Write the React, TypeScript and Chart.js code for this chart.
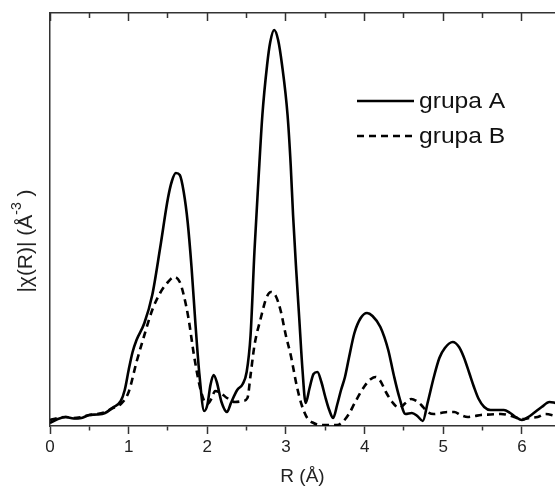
import React, { useEffect, useRef } from 'react';
import { Chart, registerables } from 'chart.js';

Chart.register(...registerables);

// ---- data (R in Å, |χ(R)| in arbitrary units) ----
const rA = [0.00, 0.10, 0.20, 0.30, 0.40, 0.50, 0.60, 0.70, 0.80, 0.90, 0.95, 1.00, 1.05, 1.10, 1.20, 1.30, 1.40, 1.50, 1.55, 1.60, 1.65, 1.70, 1.75, 1.80, 1.85, 1.90, 1.96, 2.00, 2.04, 2.08, 2.12, 2.18, 2.25, 2.30, 2.38, 2.45, 2.50, 2.55, 2.60, 2.65, 2.70, 2.76, 2.80, 2.85, 2.90, 2.95, 3.02, 3.06, 3.09, 3.13, 3.17, 3.21, 3.25, 3.30, 3.35, 3.40, 3.45, 3.50, 3.55, 3.60, 3.65, 3.70, 3.75, 3.80, 3.87, 3.95, 4.03, 4.10, 4.20, 4.30, 4.37, 4.44, 4.52, 4.60, 4.67, 4.74, 4.80, 4.88, 4.95, 5.02, 5.12, 5.20, 5.26, 5.33, 5.39, 5.45, 5.52, 5.60, 5.70, 5.77, 5.85, 5.92, 6.00, 6.08, 6.15, 6.25, 6.35, 6.43];
const vA = [3, 7, 9, 7.5, 8, 11, 11.5, 13, 18.5, 25, 36, 56, 74, 86, 103, 131, 178, 228, 245, 253, 251, 234, 204, 158, 101, 51, 15, 21, 41, 51, 44, 24, 14, 23, 36, 42, 54, 91, 176, 246, 311, 361, 384, 396, 386, 361, 311, 261, 211, 156, 106, 56, 23, 38, 52, 54, 44, 29, 16, 8, 21, 36, 49, 68, 93, 108, 113, 110, 99, 76, 51, 29, 12, 13, 10, 5, 23, 49, 68, 78, 84, 79, 69, 53, 39, 27, 19, 16, 16, 16, 13, 9, 6, 9, 13, 19, 24, 23];

const rB = [0.00, 0.10, 0.20, 0.30, 0.40, 0.50, 0.60, 0.70, 0.80, 0.90, 1.00, 1.10, 1.20, 1.30, 1.40, 1.50, 1.58, 1.65, 1.70, 1.76, 1.83, 1.90, 1.96, 2.00, 2.05, 2.10, 2.17, 2.25, 2.35, 2.45, 2.51, 2.55, 2.60, 2.68, 2.75, 2.81, 2.87, 2.93, 3.00, 3.06, 3.14, 3.20, 3.27, 3.35, 3.45, 3.55, 3.65, 3.72, 3.80, 3.88, 4.00, 4.08, 4.14, 4.20, 4.27, 4.35, 4.44, 4.52, 4.59, 4.66, 4.72, 4.80, 4.88, 4.97, 5.05, 5.14, 5.22, 5.31, 5.40, 5.48, 5.60, 5.73, 5.82, 5.90, 6.00, 6.10, 6.20, 6.30, 6.43];
const vB = [6, 8, 9, 8, 9, 11, 12, 14, 18, 22, 34, 64, 91, 116, 133, 144, 149, 144, 131, 108, 71, 41, 25, 22, 27, 35, 33, 28, 24, 25, 28, 51, 81, 108, 128, 134, 130, 116, 90, 71, 39, 21, 8, 3, 1, 1, 1, 4, 12, 24, 40, 47, 49, 45, 34, 24, 18, 23, 27, 25, 21, 14, 12, 13, 14, 14, 11, 9, 10, 11, 11.5, 12, 11, 9, 7, 8, 9, 12, 10];

const seriesNames = ['grupa A', 'grupa B'];
const xMin = 0;
const xMax = 6.42;
const yMin = 0;
const yMax = 413;
const xStep = 0.5;
const xTitle = 'R (Å)';
const yTitleMain = '|χ(R)| (Å';
const yTitleSup = '-3';
const yTitleEnd = ' )';

const FONT = "'Liberation Sans', Arial, sans-serif";

export default function App() {
  const ref = useRef<HTMLCanvasElement>(null);

  useEffect(() => {
    if (!ref.current) return;

    const overlay = {
      id: 'overlayTexts',
      afterDraw(chart: any) {
        const ctx = chart.ctx as CanvasRenderingContext2D;
        ctx.save();
        // legend inside plot
        chart.data.datasets.forEach((ds: any, i: number) => {
          const y = 101 + i * 35;
          ctx.strokeStyle = ds.borderColor;
          ctx.lineWidth = ds.borderWidth;
          ctx.setLineDash(ds.borderDash || []);
          ctx.beginPath();
          ctx.moveTo(357, y);
          ctx.lineTo(414, y);
          ctx.stroke();
          ctx.setLineDash([]);
          ctx.save();
          ctx.fillStyle = '#111';
          ctx.font = `22px ${FONT}`;
          ctx.textBaseline = 'middle';
          ctx.textAlign = 'left';
          ctx.translate(419, y + 1);
          ctx.scale(1.12, 1);
          ctx.fillText(ds.label, 0, 0);
          ctx.restore();
        });
        // y axis title (rotated, with superscript)
        ctx.translate(26, 241);
        ctx.rotate(-Math.PI / 2);
        const mainFont = `21px ${FONT}`;
        const supFont = `14px ${FONT}`;
        ctx.font = mainFont;
        const w1 = ctx.measureText(yTitleMain).width;
        const w3 = ctx.measureText(yTitleEnd).width;
        ctx.font = supFont;
        const w2 = ctx.measureText(yTitleSup).width;
        let x = -(w1 + w2 + w3) / 2;
        ctx.fillStyle = '#222';
        ctx.textBaseline = 'middle';
        ctx.textAlign = 'left';
        ctx.font = mainFont;
        ctx.fillText(yTitleMain, x, 0);
        x += w1;
        ctx.font = supFont;
        ctx.fillText(yTitleSup, x, -9);
        x += w2;
        ctx.font = mainFont;
        ctx.fillText(yTitleEnd, x, 0);
        ctx.restore();
      },
    };

    const isMajor = (c: any) => c.tick && Math.abs(c.tick.value - Math.round(c.tick.value)) < 1e-6;

    const chart = new Chart(ref.current, {
      type: 'line',
      data: {
        datasets: [
          {
            label: seriesNames[0],
            data: rA.map((r, i) => ({ x: r, y: vA[i] })),
            borderColor: '#000',
            borderWidth: 2.6,
            pointRadius: 0,
            fill: false,
            cubicInterpolationMode: 'monotone',
            xAxisID: 'x',
            yAxisID: 'y',
          },
          {
            label: seriesNames[1],
            data: rB.map((r, i) => ({ x: r, y: vB[i] })),
            borderColor: '#000',
            borderWidth: 2.6,
            borderDash: [7, 5],
            pointRadius: 0,
            fill: false,
            cubicInterpolationMode: 'monotone',
            xAxisID: 'x',
            yAxisID: 'y',
          },
        ],
      },
      options: {
        responsive: false,
        animation: false,
        layout: { padding: 0 },
        plugins: {
          legend: { display: false },
          tooltip: { enabled: false },
        },
        scales: {
          x: {
            type: 'linear',
            position: 'bottom',
            min: xMin,
            max: xMax,
            ticks: {
              stepSize: xStep,
              includeBounds: false,
              autoSkip: false,
              maxRotation: 0,
              padding: 3,
              color: '#222',
              font: { family: FONT, size: 17 },
              callback: (v: any) => (Math.abs(v - Math.round(v)) < 1e-6 ? String(Math.round(v)) : ''),
            },
            grid: {
              display: true,
              drawOnChartArea: false,
              drawTicks: true,
              tickLength: 8,
              tickColor: '#333',
              tickWidth: 1.5,
              tickBorderDash: (c: any) => (isMajor(c) ? [] : [4, 100]),
            },
            border: { display: true, color: '#333', width: 1.5 },
            title: {
              display: true,
              text: xTitle,
              color: '#222',
              font: { family: FONT, size: 19 },
              padding: { top: 0, bottom: -2 },
            },
            afterFit: (axis: any) => {
              axis.height = 60;
            },
          },
          x2: {
            type: 'linear',
            position: 'top',
            min: xMin,
            max: xMax,
            ticks: { display: false, stepSize: xStep, includeBounds: false, autoSkip: false },
            grid: {
              display: true,
              drawOnChartArea: false,
              drawTicks: true,
              tickLength: -8,
              tickColor: '#333',
              tickWidth: 1.5,
              tickBorderDash: (c: any) => (isMajor(c) ? [] : [0, 3, 5, 100]),
            },
            border: { display: true, color: '#333', width: 1.5 },
            afterFit: (axis: any) => {
              axis.height = 13;
            },
          },
          y: {
            type: 'linear',
            position: 'left',
            min: yMin,
            max: yMax,
            ticks: { display: false },
            grid: { display: false },
            border: { display: true, color: '#333', width: 1.5 },
            afterFit: (axis: any) => {
              axis.width = 50;
            },
          },
        },
      },
      plugins: [overlay],
    } as any);

    return () => chart.destroy();
  }, []);

  return (
    <div style={{ position: 'fixed', left: 0, top: 0, width: 555, height: 486, background: '#fff' }}>
      <canvas ref={ref} width={555} height={486} style={{ display: 'block' }} />
    </div>
  );
}
